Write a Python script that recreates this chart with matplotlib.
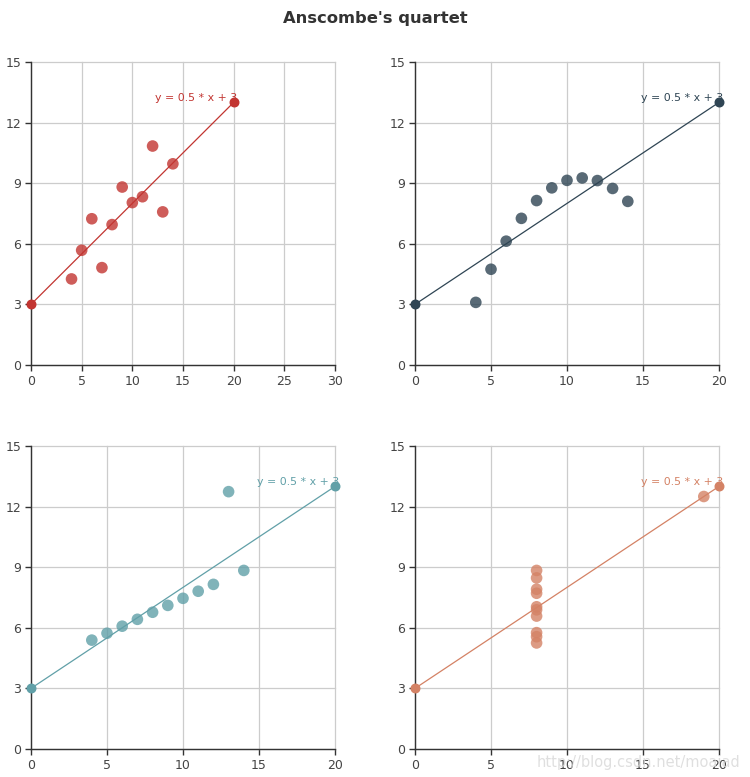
import matplotlib.pyplot as plt

# Anscombe's quartet data
x_a = [10, 8, 13, 9, 11, 14, 6, 4, 12, 7, 5]
x_d = [8, 8, 8, 8, 8, 8, 8, 19, 8, 8, 8]
y_1 = [8.04, 6.95, 7.58, 8.81, 8.33, 9.96, 7.24, 4.26, 10.84, 4.82, 5.68]
y_2 = [9.14, 8.14, 8.74, 8.77, 9.26, 8.10, 6.13, 3.10, 9.13, 7.26, 4.74]
y_3 = [7.46, 6.77, 12.74, 7.11, 7.81, 8.84, 6.08, 5.39, 8.15, 6.42, 5.73]
y_4 = [6.58, 5.76, 7.71, 8.84, 8.47, 7.04, 5.25, 12.50, 5.56, 7.91, 6.89]

line_x = [0, 20]
line_y = [3, 13]
line_label = 'y = 0.5 * x + 3'

colors = ['#c23531', '#2f4554', '#61a0a8', '#d48265']
x_max = [30, 20, 20, 20]
series = [(x_a, y_1), (x_a, y_2), (x_a, y_3), (x_d, y_4)]

W, H = 750, 777
fig = plt.figure(figsize=(W / 100, H / 100), dpi=100)
plt.rcParams['font.family'] = ['DejaVu Sans']

# axes positions in pixels: left, top, right, bottom
boxes = [(31, 62, 335, 365), (415, 62, 719, 365),
         (31, 446, 335, 749), (415, 446, 719, 749)]

for i, (xs, ys) in enumerate(series):
    l, t, r, b = boxes[i]
    ax = fig.add_axes([l / W, 1 - b / H, (r - l) / W, (b - t) / H])
    c = colors[i]
    ax.plot(line_x, line_y, color=c, lw=0.9, zorder=2)
    ax.scatter(line_x, line_y, s=38, color=c, zorder=3, clip_on=False)
    ax.scatter(xs, ys, s=70, color=c, alpha=0.8, edgecolors='none', zorder=4)
    ax.annotate(line_label, (line_x[1], line_y[1]), xytext=(4, 4),
                textcoords='offset pixels', ha='right', va='center',
                color=c, fontsize=7.9, zorder=5, annotation_clip=False)

    ax.set_xlim(0, x_max[i])
    ax.set_ylim(0, 15)
    ax.set_xticks(range(0, x_max[i] + 1, 5))
    ax.set_yticks(range(0, 16, 3))
    ax.grid(True, color='#cccccc', lw=0.9, clip_on=False)
    ax.set_axisbelow(True)
    for s in ['top', 'right']:
        ax.spines[s].set_visible(False)
    for s in ['left', 'bottom']:
        ax.spines[s].set_color('#333333')
        ax.spines[s].set_linewidth(1.0)
    ax.tick_params(colors='#333333', labelcolor='#444444', labelsize=9,
                   length=4, width=1.0, pad=3)

fig.text(0.5, 1 - 18 / H, "Anscombe's quartet", ha='center', va='center',
         fontsize=11.8, fontweight='bold', color='#333333')
fig.text(740 / W, 1 - 763 / H, 'http://blog.csdn.net/moaiad', ha='right',
         va='center', fontsize=10.5, color='#d8d8d8', alpha=0.8)

fig.savefig('out.png', dpi=100)
